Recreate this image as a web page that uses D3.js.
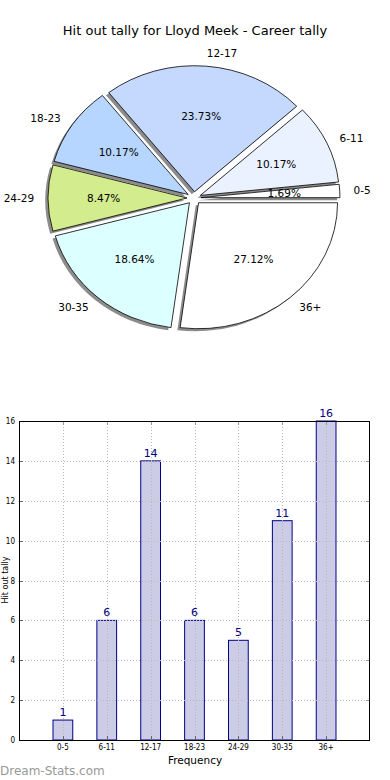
<!DOCTYPE html>
<html><head><meta charset="utf-8">
<script src="https://cdn.jsdelivr.net/npm/d3@7"></script>
<style>body{margin:0;background:#fff}svg{display:block;font-family:"DejaVu Sans",sans-serif}</style>
</head><body><svg id="c" width="390" height="780"></svg>
<script>
const title = "Hit out tally for Lloyd Meek - Career tally";
const categories = ["0-5","6-11","12-17","18-23","24-29","30-35","36+"];
const values = [1,6,14,6,5,11,16];
const pieColors = ["#ffffff","#eaf1ff","#c5d9ff","#b6d6ff","#d3ec8d","#dcffff","#ffffff"];
const yTicks = [0,2,4,6,8,10,12,14,16];
const xLabel = "Frequency";
const yLabel = "Hit out tally";
const watermark = "Dream-Stats.com";

const svg = d3.select("#c");
svg.append("text").attr("x",195).attr("y",35).attr("text-anchor","middle")
  .attr("font-size",13).attr("fill","#000").text(title);

// ---- Pie (matplotlib style: start at 3 o'clock, counterclockwise, exploded, shadow)
const cx = 194, cy = 198, Rx = 139, Ry = 126, expl = 0.05;
const total = d3.sum(values);
const pie = d3.pie().sort(null).startAngle(Math.PI/2).endAngle(Math.PI/2 - 2*Math.PI);
const arcs = pie(values);
const arc = d3.arc().innerRadius(0).outerRadius(Ry);
const sx = Rx/Ry;
const pg = svg.append("g");
arcs.forEach((a,i)=>{
  const mid = (a.startAngle + a.endAngle)/2;
  const X = cx + expl*Rx*Math.sin(mid), Y = cy - expl*Ry*Math.cos(mid);
  pg.append("path").attr("d",arc(a))
    .attr("transform",`translate(${X-0.02*Rx},${Y+0.02*Ry}) scale(${sx},1)`)
    .attr("fill","#000").attr("opacity",0.45);
});
arcs.forEach((a,i)=>{
  const mid = (a.startAngle + a.endAngle)/2;
  const X = cx + expl*Rx*Math.sin(mid), Y = cy - expl*Ry*Math.cos(mid);
  pg.append("path").attr("d",arc(a))
    .attr("transform",`translate(${X},${Y}) scale(${sx},1)`)
    .attr("fill",pieColors[i]).attr("stroke","#000").attr("stroke-width",0.8)
    .attr("vector-effect","non-scaling-stroke");
});
arcs.forEach((a,i)=>{
  const mid = (a.startAngle + a.endAngle)/2;
  const s = Math.sin(mid), c = Math.cos(mid);
  const X = cx + expl*Rx*s, Y = cy - expl*Ry*c;
  const lx = X + 1.1*Rx*s, ly = Y - 1.1*Ry*c;
  pg.append("text").attr("x",lx).attr("y",ly).attr("dy","0.35em")
    .attr("text-anchor", s>0 ? "start" : "end").attr("font-size",10.5).attr("fill","#000")
    .text(categories[i]);
  const px = X + 0.6*Rx*s, py = Y - 0.6*Ry*c;
  pg.append("text").attr("x",px).attr("y",py).attr("dy","0.35em")
    .attr("text-anchor","middle").attr("font-size",10.5).attr("fill","#000")
    .text((values[i]/total*100).toFixed(2)+"%");
});

// ---- Bar chart
const L = 19, Rr = 370, T = 421, B = 740;
const x = d3.scaleLinear().domain([-1,7]).range([L,Rr]);
const y = d3.scaleLinear().domain([0,16]).range([B,T]);
const bw = x(0.45)-x(0);
const bg = svg.append("g");
bg.selectAll("rect.bar").data(values).enter().append("rect").attr("class","bar")
  .attr("x",(d,i)=>x(i)-bw/2).attr("y",d=>y(d)).attr("width",bw).attr("height",d=>B-y(d))
  .attr("fill","#ccccE6").attr("stroke","#000088").attr("stroke-width",1);
// grid (on top)
bg.selectAll("line.gy").data(yTicks.slice(1,-1)).enter().append("line")
  .attr("x1",L).attr("x2",Rr).attr("y1",d=>Math.round(y(d))+0.5).attr("y2",d=>Math.round(y(d))+0.5)
  .attr("stroke","#b8b8b8").attr("stroke-dasharray","1,2");
bg.selectAll("line.gx").data(categories).enter().append("line")
  .attr("y1",T).attr("y2",B).attr("x1",(d,i)=>Math.round(x(i))+0.5).attr("x2",(d,i)=>Math.round(x(i))+0.5)
  .attr("stroke","#b8b8b8").attr("stroke-dasharray","1,2");
// ticks
yTicks.forEach(t=>{
  const yy = Math.round(y(t))+0.5;
  bg.append("line").attr("x1",L).attr("x2",L+4).attr("y1",yy).attr("y2",yy).attr("stroke","#666");
  bg.append("line").attr("x1",Rr-4).attr("x2",Rr).attr("y1",yy).attr("y2",yy).attr("stroke","#999");
});
categories.forEach((c,i)=>{
  const xx = Math.round(x(i))+0.5;
  bg.append("line").attr("x1",xx).attr("x2",xx).attr("y1",T).attr("y2",T+4).attr("stroke","#999");
  bg.append("line").attr("x1",xx).attr("x2",xx).attr("y1",B-4).attr("y2",B).attr("stroke","#666");
});
// frame
bg.append("rect").attr("x",L+0.5).attr("y",T+0.5).attr("width",Rr-L-1).attr("height",B-T)
  .attr("fill","none").attr("stroke","#000").attr("stroke-width",1);
// axes labels
const yAxis = d3.axisLeft(y).tickValues(yTicks).tickSize(0).tickPadding(4);
const ya = bg.append("g").attr("transform",`translate(${L},0)`).call(yAxis);
ya.select(".domain").remove();
ya.selectAll("text").attr("font-size",8).attr("font-family","DejaVu Sans Condensed, DejaVu Sans").attr("fill","#000");
const xb = d3.scaleBand().domain(categories).range([x(-0.5),x(6.5)]);
const xAxis = d3.axisBottom(xb).tickSize(0).tickPadding(4);
const xa = bg.append("g").attr("transform",`translate(0,${B})`).call(xAxis);
xa.select(".domain").remove();
xa.selectAll("text").attr("font-size",8).attr("font-family","DejaVu Sans Condensed, DejaVu Sans").attr("fill","#000");
// value labels
bg.selectAll("text.val").data(values).enter().append("text").attr("class","val")
  .attr("x",(d,i)=>x(i)).attr("y",d=>y(d)-4).attr("text-anchor","middle")
  .attr("font-size",11).attr("fill","#000080").text(d=>d);
svg.append("text").attr("x",195).attr("y",764).attr("text-anchor","middle")
  .attr("font-size",10.5).attr("fill","#000").text(xLabel);
svg.append("text").attr("transform","translate(7.5,580) rotate(-90)").attr("text-anchor","middle")
  .attr("font-size",8).attr("fill","#000").text(yLabel);
svg.append("text").attr("x",0).attr("y",775).attr("font-size",12).attr("fill","#999")
  .text(watermark);
</script></body></html>
